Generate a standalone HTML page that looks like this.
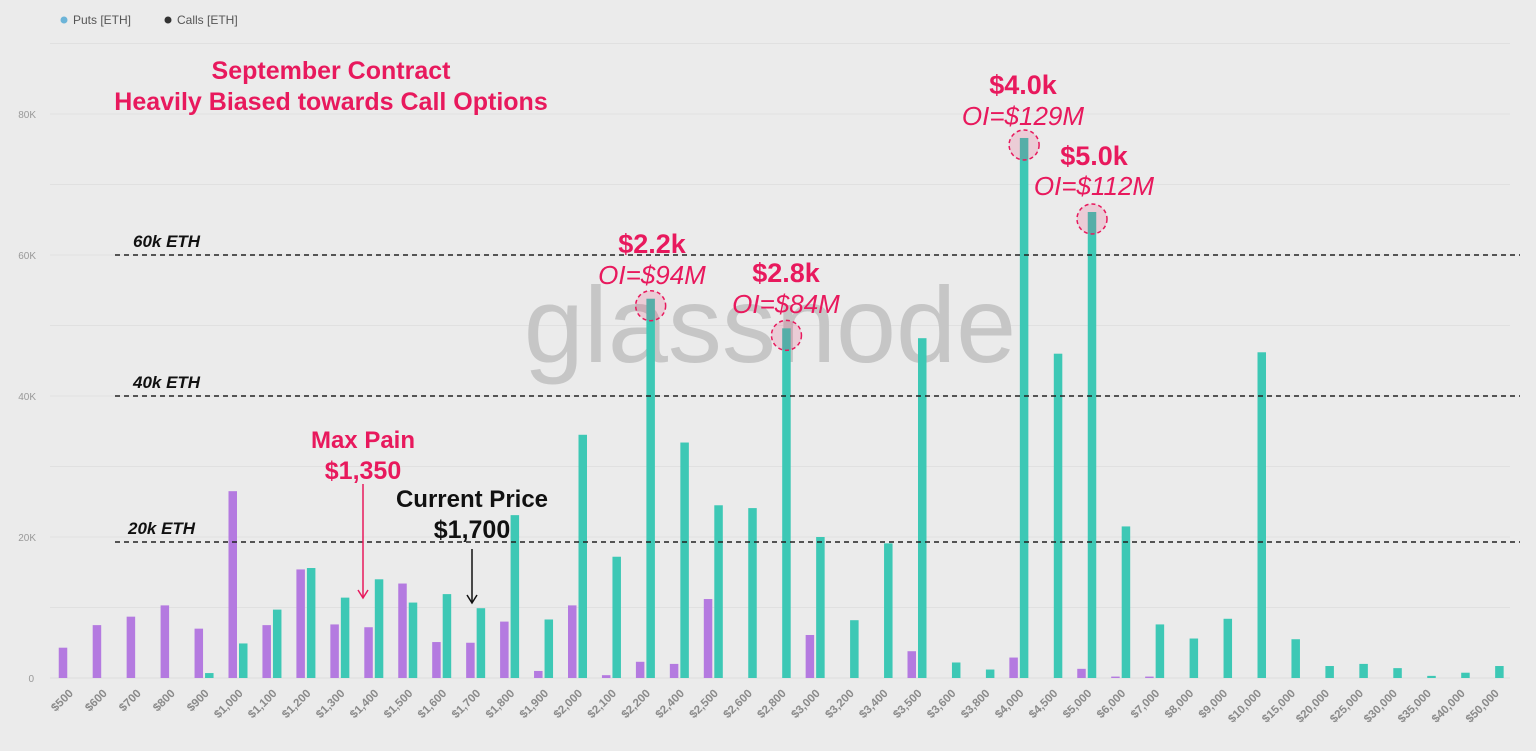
<!DOCTYPE html>
<html><head><meta charset="utf-8">
<style>
html,body{margin:0;padding:0;background:#ebebeb;}
svg{display:block;font-family:"Liberation Sans",sans-serif;}
</style></head>
<body>
<svg id="chart" width="1536" height="751" viewBox="0 0 1536 751" xmlns="http://www.w3.org/2000/svg">
<rect x="0" y="0" width="1536" height="751" fill="#ebebeb"/>
<g id="grid"></g>
<g id="yticks"></g>
<text x="770" y="362" text-anchor="middle" font-size="108" fill="#c6c6c6">glassnode</text>
<g id="bars"></g>
<g id="xticks"></g>
<g id="refs"></g>
<g>
  <g><circle cx="64" cy="20" r="3.5" fill="#6cb4d8"/><text x="73" y="24" font-size="12" fill="#555">Puts [ETH]</text></g>
  <g><circle cx="168" cy="20" r="3.5" fill="#333"/><text x="177" y="24" font-size="12" fill="#555">Calls [ETH]</text></g>
</g>
<g id="annot" fill="#e8195d" text-anchor="middle">
  <text x="331" y="79" font-size="25" font-weight="bold">September Contract</text>
  <text x="331" y="110" font-size="25" font-weight="bold">Heavily Biased towards Call Options</text>
  <text x="1023" y="94" font-size="27" font-weight="bold">$4.0k</text>
  <text x="1023" y="125" font-size="26" font-style="italic">OI=$129M</text>
  <text x="1094" y="165" font-size="27" font-weight="bold">$5.0k</text>
  <text x="1094" y="195" font-size="26" font-style="italic">OI=$112M</text>
  <text x="652" y="253" font-size="27" font-weight="bold">$2.2k</text>
  <text x="652" y="284" font-size="26" font-style="italic">OI=$94M</text>
  <text x="786" y="282" font-size="27" font-weight="bold">$2.8k</text>
  <text x="786" y="313" font-size="26" font-style="italic">OI=$84M</text>
  <text x="363" y="448" font-size="24" font-weight="bold">Max Pain</text>
  <text x="363" y="479" font-size="25" font-weight="bold">$1,350</text>
  <line x1="363" y1="484" x2="363" y2="597" stroke="#e8195d" stroke-width="1.5"/>
  <path d="M358 590 L363 598 L368 590" fill="none" stroke="#e8195d" stroke-width="1.5"/>
  <text x="472" y="507" font-size="24" font-weight="bold" fill="#111">Current Price</text>
  <text x="472" y="538" font-size="25" font-weight="bold" fill="#111">$1,700</text>
  <line x1="472" y1="549" x2="472" y2="602" stroke="#111" stroke-width="1.5"/>
  <path d="M467 595 L472 603 L477 595" fill="none" stroke="#111" stroke-width="1.5"/>
</g>
<g id="circles"></g>
</svg>
<script>
const categories = ["$500","$600","$700","$800","$900","$1,000","$1,100","$1,200","$1,300","$1,400","$1,500","$1,600","$1,700","$1,800","$1,900","$2,000","$2,100","$2,200","$2,400","$2,500","$2,600","$2,800","$3,000","$3,200","$3,400","$3,500","$3,600","$3,800","$4,000","$4,500","$5,000","$6,000","$7,000","$8,000","$9,000","$10,000","$15,000","$20,000","$25,000","$30,000","$35,000","$40,000","$50,000"];
const puts = [4.3,7.5,8.7,10.3,7.0,26.5,7.5,15.4,7.6,7.2,13.4,5.1,5.0,8.0,1.0,10.3,0.4,2.3,2.0,11.2,0,0,6.1,0,0,3.8,0,0,2.9,0,1.3,0.2,0.2,0,0,0,0,0,0,0,0,0,0];
const calls = [0,0,0,0,0.7,4.9,9.7,15.6,11.4,14.0,10.7,11.9,9.9,23.1,8.3,34.5,17.2,53.8,33.4,24.5,24.1,49.6,20.0,8.2,19.1,48.2,2.2,1.2,76.6,46.0,66.1,21.5,7.6,5.6,8.4,46.2,5.5,1.7,2.0,1.4,0.3,0.75,1.7];
const yTicks = [0,20,40,60,80];
const gridVals = [10,20,30,40,50,60,70,80,90];
const refVals = [20,40,60];
const refLabels = ["20k ETH","40k ETH","60k ETH"];
const highlightIdx = [17,21,28,30];

const NS="http://www.w3.org/2000/svg";
const y = v => 678 - v*7.05;
const x = i => 68.75 + i*33.95;
function mk(tag, attrs, parent){const e=document.createElementNS(NS,tag);for(const k in attrs)e.setAttribute(k,attrs[k]);parent.appendChild(e);return e;}
const G=id=>document.getElementById(id);

gridVals.forEach(v=>{const l=mk('line',{x1:50,x2:1510,y1:y(v),y2:y(v),stroke:'#e0e0e0','stroke-width':1},G('grid'));

});
mk('line',{x1:50,x2:1510,y1:y(0),y2:y(0),stroke:'#dcdcdc','stroke-width':1},G('grid'));
yTicks.forEach(v=>{const t=mk('text',{x:v===0?34:36,y:y(v)+4,'text-anchor':'end','font-size':10,fill:'#999'},G('yticks'));t.textContent=v===0?'0':v+'K';

});
categories.forEach((c,i)=>{
  const cx=x(i);
  if(puts[i]>0){const r=mk('rect',{x:cx-10,y:y(puts[i]),width:8.5,height:puts[i]*7.05,fill:'#b47ae0'},G('bars'));
  
  }
  if(calls[i]>0){const r=mk('rect',{x:cx+0.5,y:y(calls[i]),width:8.5,height:calls[i]*7.05,fill:'#3dc8b5'},G('bars'));
  
  }
  const t=mk('text',{x:cx+5,y:694,'text-anchor':'end','font-size':11.5,'font-weight':'bold',fill:'#8a8a8a',transform:`rotate(-45 ${cx+5} 694)`},G('xticks'));
  t.textContent=c;
  
  
});
refVals.forEach((v,k)=>{const yy=y(v)+(v===20?5:0);
  const l=mk('line',{x1:115,x2:1520,y1:yy,y2:yy,stroke:'#222','stroke-width':1.5,'stroke-dasharray':'5,4'},G('refs'));
  
  
  const t=mk('text',{x:v===20?128:133,y:yy-8,'font-size':17,'font-weight':'bold','font-style':'italic',fill:'#111'},G('refs'));
  t.textContent=refLabels[k];
  
  });
highlightIdx.forEach(i=>{const c=mk('circle',{cx:x(i)+4.75,cy:y(calls[i])+7,r:15,fill:'rgba(232,25,93,0.15)',stroke:'#e8195d','stroke-width':1.5,'stroke-dasharray':'4,3'},G('circles'));

});
</script>
</body></html>
